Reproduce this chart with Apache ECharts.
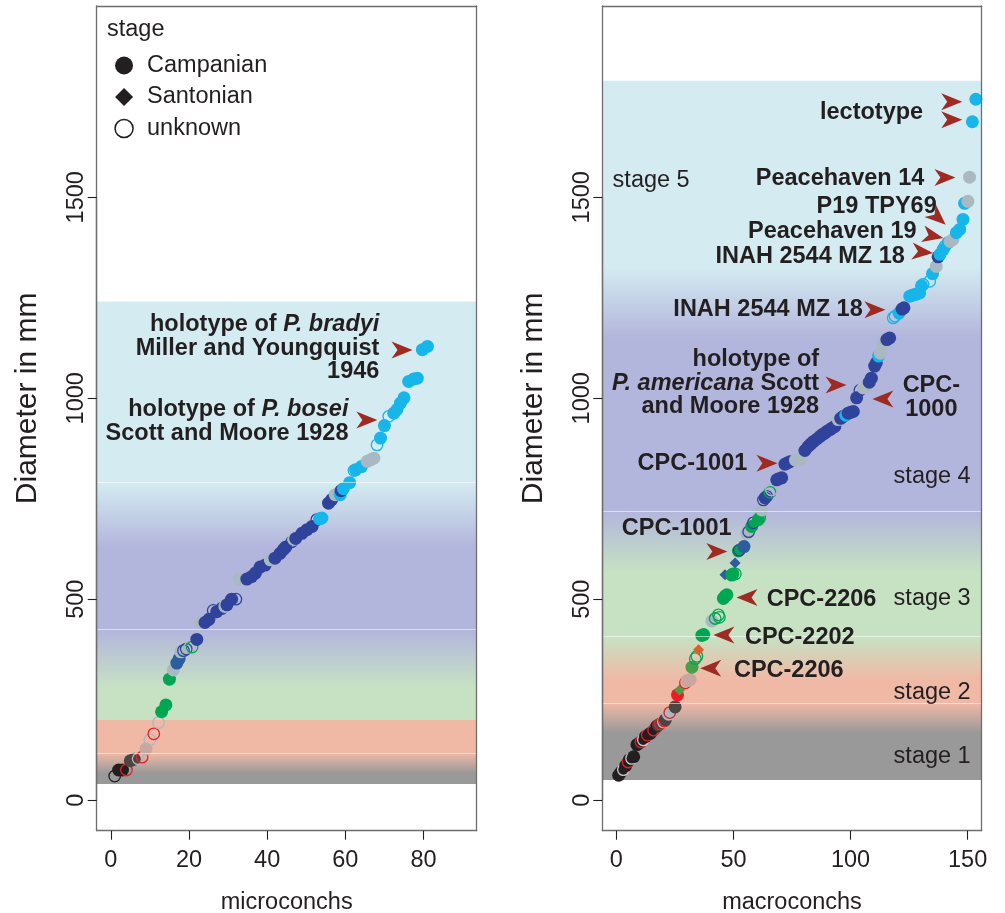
<!DOCTYPE html>
<html><head><meta charset="utf-8">
<script src="https://cdn.jsdelivr.net/npm/echarts@6/dist/echarts.min.js"></script>
<style>html,body{margin:0;padding:0;background:#fff}#c{width:1005px;height:913px}</style>
</head><body><div id="c"></div>
<script>
// ---------------- DATA ----------------
// microconchs (left panel): rank, diameter (mm), colour group, shape (f=Campanian filled, d=Santonian diamond, o=unknown open)
const microX = [1,2,3,4,5,6,7,8,9,10,11,12.2,13,14.1,15,16,16.9,17.5,17.9,18.6,19.3,20.2,20.8,22,23,24.1,25.1,26.2,27.1,28.4,29.2,29.7,30.9,32,32.8,34.8,36,37,38.2,39.5,40.8,42,43.3,44.2,44.8,46.3,46.8,47.3,48.9,50.2,51.5,52.7,53.4,54,55.7,56.5,57.4,58.7,58.9,59.5,61.1,62.2,62.6,64.1,65.6,66.5,67.3,68.1,69,70,71.1,72.4,73.2,74.1,75,76.2,77.5,78.4,79.7,81];
const microD = [60,75,75,75,98,102,103,107,127,150,165,193,220,237,301,324,341,352,369,372,376,380,381,400,440,442,450,472,469,477,482,486,500,500,550,550,556,565,580,585,598,602,614,624,630,643,649,651,664,673,681,698,700,702,739,748,760,760,770,775,790,820,822,830,843,847,851,884,901,932,955,963,972,988,1001,1042,1048,1050,1121,1129];
const microCol = ['k','k','k','r','brn','brn','gry','r','pk','gry','r','gry','gr','gr','gr','gry','sb','sb','gry','b','b','gry','gr','b','gry','b','b','b','b','b','gry','b','b','b','gry','b','b','b','b','b','gry','b','b','b','b','b','gry','b','b','b','b','b','c','c','b','b','gry','c','b','c','c','c','c','c','gry','gry','gry','c','c','c','c','c','c','c','c','c','c','c','c','c'];
const microShape = ['o','f','f','o','f','f','o','o','f','o','o','o','f','f','f','f','f','f','f','o','o','o','o','f','f','f','f','o','f','f','f','f','f','o','f','f','f','f','f','f','f','f','f','f','f','o','f','f','f','f','f','o','f','f','f','f','f','f','f','f','f','o','f','f','f','f','f','o','f','f','o','f','f','f','f','f','f','f','f','f'];

// macroconchs (right panel)
const macroX = [1,2,3,4,5,5.5,6.5,7.4,8.8,10,10.5,11.5,12.4,13.2,14.5,15.9,17.3,18,18.7,20.1,20.5,20.9,22.3,22.8,25.1,26.1,27,29.5,30.1,31.5,32.3,33.7,34.4,35.1,36.5,37.3,40.8,42.2,43.6,44,45.7,46.5,47.2,46.4,49.3,49.8,50.8,50.7,52.1,52.5,54.5,55.7,56.5,57.8,58.5,60.6,61.2,62.1,62.8,63.5,64.2,65.6,66.2,68.5,69.5,70.6,72,73,74.1,76.5,78.3,79,80.5,81.9,83,84.1,85.5,87,88,89,90,91.2,92.2,93.3,94.7,95.8,96.9,98,99,100,101.2,102.6,104,105.4,106.8,108,108.9,110.3,111,112,112.7,113.9,115.5,116.7,118.2,119,120.7,122,122.8,125.3,126.3,127.4,128.5,129.5,130.3,131,133.8,135,136.6,137.4,138.2,139.5,140.3,141.6,142.5,143.7,145.2,146.6,148,148.7,150.1,150.8,152,153.5];
const macroD = [62,70,76,86,95,100,104,108,138,143,145,150,158,162,166,174,184,187,190,195,197,200,214,218,232,262,274,292,297,300,331,352,358,374,410,412,446,452,461,455,502,508,511,561,560,563,563,590,620,622,631,664,668,681,690,698,702,722,747,752,756,766,772,797,800,802,836,839,842,846,848,850,870,880,886,892,898,905,910,913,918,922,926,930,947,950,955,958,963,965,967,1001,1020,1026,1030,1040,1050,1080,1088,1105,1112,1134,1146,1150,1200,1204,1212,1222,1225,1254,1256,1258,1260,1262,1280,1283,1291,1310,1328,1352,1358,1370,1378,1387,1390,1395,1412,1420,1445,1485,1490,1550,1688,1744];
const macroCol = ['k','k','gryw','k','r','k','gryw','k','k','k','r','gryw','k','r','k','r','k','brn','r','gry','r','brn','gry','r','brn','r','dgr','r','pk','pk','dgr','gr','gr','or','gr','gr','gry','gr','gr','gr','gr','gr','gr','sb','gr','gr','gr','sb','gr','b','sb','gry','b','gr','b','gr','gr','gry','b','b','b','gr','gry','b','b','b','b','b','b','gry','gry','gry','b','b','b','b','b','b','b','b','b','b','b','b','gry','b','b','c','b','b','b','b','b','gry','gry','b','b','b','b','c','gry','gry','b','b','c','c','c','b','b','c','c','c','c','c','c','c','c','c','gry','b','c','c','c','c','gry','gry','c','c','c','c','gry','gry','c','c'];
const macroShape = ['f','f','o','f','o','f','o','f','f','f','o','o','f','o','f','o','f','f','o','f','o','f','f','o','f','f','d','o','f','f','f','o','o','d','f','f','f','o','o','o','f','f','f','d','f','f','o','d','f','o','f','f','o','f','o','f','o','f','o','f','o','o','o','f','f','f','f','f','f','f','f','o','f','f','f','f','f','f','f','f','f','f','f','f','f','f','f','f','f','f','f','f','o','f','f','f','f','f','f','f','f','f','f','f','o','o','f','f','f','f','f','f','f','f','f','o','o','f','f','f','f','f','o','f','f','f','f','f','f','f','f','f','f','f'];

// stage background bands: [lower, upper, stage at lower edge, stage at upper edge]
const microBands = [[40,67,'s1','s1'],[67,117,'s1','s2'],[117,200,'s2','s2'],[200,280,'s3','s3'],[280,424,'s3','s4'],[424,630,'s4','s4'],[630,792,'s4','s5'],[792,1241,'s5','s5']];
const microBandLines = [117,424,792];
const macroBands = [[50,167,'s1','s1'],[167,242,'s1','s2'],[242,300,'s2','s2'],[300,407,'s2','s3'],[407,565,'s3','s3'],[565,720,'s3','s4'],[720,1150,'s4','s4'],[1150,1330,'s4','s5'],[1330,1790,'s5','s5']];
const macroBandLines = [242,407,720];

// annotations: [x, diameter, text, align]
const microNotes = [[68.7,1124,'holotype of {i|P. bradyi}\nMiller and Youngquist\n1946','right'],[60.8,942,'holotype of {i|P. bosei}\nScott and Moore 1928','right']];
const macroNotes = [[131.0,1710,'lectotype','right'],[131.5,1546,'Peacehaven 14','right'],[136.8,1478,'P19 TPY69','right'],[128.2,1415,'Peacehaven 19','right'],[123.2,1352,'INAH 2544 MZ 18','right'],[105.2,1220,'INAH 2544 MZ 18','right'],[86.6,1037,'holotype of\n{i|P. americana} Scott\nand Moore 1928','right'],[134.5,1002,'CPC-\n1000','center'],[55.9,836.5,'CPC-1001','right'],[49.2,677,'CPC-1001','right'],[64.2,500,'CPC-2206','left'],[54.9,405,'CPC-2202','left'],[50.2,322,'CPC-2206','left']];
const macroStageNotes = [[-1.6,1543,'stage 5','left'],[151.3,805,'stage 4','right'],[151.3,502,'stage 3','right'],[151.3,267.5,'stage 2','right'],[151.3,108,'stage 1','right']];
// arrows: [x, diameter, rotation in degrees]
const microArrows = [[74.5,1120,0],[65.5,946,0]];
const macroArrows = [[143.2,1738,0],[143.2,1693,0],[140.3,1549,0],[137.3,1449,-42],[135.2,1404,-12],[130.7,1364,-5],[110.4,1220,0],[93.8,1033,0],[113.8,998,180],[64.3,838,0],[42.9,619,0],[55.8,504,180],[45.9,411,180],[40.3,328,180]];

const yTicks = [0,500,1000,1500];
const microTicks = [0,20,40,60,80];
const macroTicks = [0,50,100,150];
const legendNames = ['Campanian','Santonian','unknown'];

// ---------------- STYLE ----------------
const FONT = "'Liberation Sans', Arial, Helvetica, sans-serif";
const INK = '#231f20';
const BOX = '#6e6e6e';
const PT = {k:'#231f20', brn:'#4f4442', r:'#ed1c24', pk:'#c9a7a0', gr:'#00a651', dgr:'#4a9e47', gry:'#a9b8c1', gryw:'#c9c9c9', sb:'#2c5e9e', b:'#2f439b', c:'#16b5ea', or:'#d9602b'};
const BAND = {s1:'#999999', s2:'#f0b9a6', s3:'#c6e2c3', s4:'#b3b6dc', s5:'#d4ecf1'};
const ARROW = 'path://M0,0L21,8.5L0,17L6,8.5Z';
const ARROWCOL = '#9e2a22';
const FS = 23.5;

function pts(X, D, C, S) {
  return X.map((x, i) => {
    const col = PT[C[i]], s = S[i];
    if (s === 'o') return {value:[x, D[i]], symbol:'circle', symbolSize:11.5, itemStyle:{color:'rgba(0,0,0,0)', borderColor:col, borderWidth:1.3}};
    if (s === 'd') return {value:[x, D[i]], symbol:'diamond', symbolSize:11, itemStyle:{color:col}};
    return {value:[x, D[i]], symbol:'circle', symbolSize:13, itemStyle:{color:col}};
  });
}
function bandSeries(bands, lines, xi, yi) {
  const lo = bands[0][0], hi = bands[bands.length - 1][1];
  const stops = [];
  bands.slice().reverse().forEach(b => {
    stops.push({offset:(hi - b[1]) / (hi - lo), color:BAND[b[3]]});
    stops.push({offset:(hi - b[0]) / (hi - lo), color:BAND[b[2]]});
  });
  return {
    type:'scatter', xAxisIndex:xi, yAxisIndex:yi, silent:true, z:1,
    data:[{value:[0,0], symbolSize:0}],
    markArea:{silent:true, label:{show:false}, data:[[
      {yAxis:lo, itemStyle:{borderWidth:0, opacity:1, color:{type:'linear', x:0, y:0, x2:0, y2:1, colorStops:stops}}},
      {yAxis:hi}]]},
    markLine:{silent:true, symbol:['none','none'], label:{show:false},
      lineStyle:{color:'rgba(255,255,255,0.55)', width:1, type:'solid'},
      data: lines.map(v => ({yAxis:v}))}
  };
}
function noteSeries(notes, xi, yi, weight) {
  return {
    type:'scatter', xAxisIndex:xi, yAxisIndex:yi, silent:true, z:6,
    symbolSize:1, itemStyle:{color:'rgba(0,0,0,0)', opacity:1},
    data: notes.map(n => ({value:[n[0], n[1]], label:{align:n[3], formatter:n[2]}})),
    label:{show:true, position:'inside', verticalAlign:'middle', color:INK, fontFamily:FONT,
      fontSize:FS, fontWeight:weight, lineHeight:23.5, opacity:1,
      rich:{i:{fontStyle:'italic', fontWeight:weight, fontSize:FS, lineHeight:23.5, color:INK, fontFamily:FONT}}}
  };
}
function arrowSeries(arrows, xi, yi) {
  return {
    type:'scatter', xAxisIndex:xi, yAxisIndex:yi, silent:true, z:6,
    symbol:ARROW, symbolSize:[21,17], itemStyle:{color:ARROWCOL, opacity:1},
    data: arrows.map(a => ({value:[a[0], a[1]], symbolRotate:a[2]}))
  };
}
function segSeries(xMin, yMin, xLast, xi, yi) {
  return {
    type:'scatter', xAxisIndex:xi, yAxisIndex:yi, silent:true, z:20,
    data:[{value:[0,0], symbolSize:0}],
    markLine:{silent:true, symbol:['none','none'], label:{show:false},
      lineStyle:{color:INK, width:1.2, type:'solid'},
      data:[[{coord:[xMin, yTicks[0]]},{coord:[xMin, yTicks[yTicks.length-1]]}],
            [{coord:[0, yMin]},{coord:[xLast, yMin]}]]}
  };
}

const YMIN = -76, YMAX = 1976;
const lblStyle = {color:INK, fontFamily:FONT, fontSize:FS};
function xBottom(gi, min, max, ticks, name) {
  return {gridIndex:gi, type:'value', min, max, position:'bottom', z:10,
    axisLine:{show:true, onZero:false, lineStyle:{color:BOX, width:1.3}},
    axisTick:{show:true, customValues:ticks, length:9, lineStyle:{color:INK, width:1.1}},
    axisLabel:{show:true, customValues:ticks, margin:18, formatter:v => String(v), ...lblStyle},
    splitLine:{show:false},
    name, nameLocation:'middle', nameGap:60, nameTextStyle:{...lblStyle}};
}
function xTop(gi, min, max) {
  return {gridIndex:gi, type:'value', min, max, position:'top', z:10,
    axisLine:{show:true, onZero:false, lineStyle:{color:BOX, width:1.3}},
    axisTick:{show:false}, axisLabel:{show:false}, splitLine:{show:false}};
}
function yLeft(gi) {
  return {gridIndex:gi, type:'value', min:YMIN, max:YMAX, position:'left', z:10,
    axisLine:{show:true, onZero:false, lineStyle:{color:BOX, width:1.3}},
    axisTick:{show:true, customValues:yTicks, length:9, lineStyle:{color:INK, width:1.1}},
    axisLabel:{show:true, customValues:yTicks, rotate:90, margin:8, formatter:v => String(v), ...lblStyle},
    splitLine:{show:false},
    name:'Diameter in mm', nameLocation:'middle', nameGap:54,
    nameTextStyle:{color:INK, fontFamily:FONT, fontSize:30, padding:[0,0,0,40]}};
}
function yRight(gi) {
  return {gridIndex:gi, type:'value', min:YMIN, max:YMAX, position:'right', z:10,
    axisLine:{show:true, onZero:false, lineStyle:{color:BOX, width:1.3}},
    axisTick:{show:false}, axisLabel:{show:false}, splitLine:{show:false}};
}

const chart = echarts.init(document.getElementById('c'), null, {renderer:'canvas'});
chart.setOption({
  animation:false,
  backgroundColor:'#ffffff',
  textStyle:{fontFamily:FONT},
  title:{text:'stage', left:107, top:18, padding:0,
    textStyle:{fontSize:FS, fontWeight:'normal', color:INK, fontFamily:FONT}},
  legend:{orient:'vertical', left:114.3, top:53.5, padding:0, itemWidth:18, itemHeight:18, itemGap:7.5,
    selectedMode:false,
    textStyle:{fontSize:FS, color:INK, fontFamily:FONT, lineHeight:23, padding:[0,0,0,9]},
    data:[
      {name:legendNames[0], icon:'circle', itemStyle:{color:INK, opacity:1}},
      {name:legendNames[1], icon:'diamond', itemStyle:{color:INK, opacity:1}},
      {name:legendNames[2], icon:'circle', itemStyle:{color:'rgba(0,0,0,0)', borderColor:INK, borderWidth:1.5, opacity:1}}]},
  grid:[{left:96.7, top:6, width:380, height:824.7, outerBoundsMode:'none', containLabel:false},
        {left:602.3, top:6, width:379.4, height:824.7, outerBoundsMode:'none', containLabel:false}],
  xAxis:[xBottom(0,-3.6,93.6,microTicks,'microconchs'), xTop(0,-3.6,93.6),
         xBottom(1,-6,156,macroTicks,'macroconchs'), xTop(1,-6,156)],
  yAxis:[yLeft(0), yRight(0), yLeft(1), yRight(1)],
  series:[
    bandSeries(microBands, microBandLines, 0, 0),
    bandSeries(macroBands, macroBandLines, 2, 2),
    {type:'scatter', name:'micro', xAxisIndex:0, yAxisIndex:0, z:3, silent:true, itemStyle:{opacity:1}, data:pts(microX, microD, microCol, microShape)},
    {type:'scatter', name:'macro', xAxisIndex:2, yAxisIndex:2, z:3, silent:true, itemStyle:{opacity:1}, data:pts(macroX, macroD, macroCol, macroShape)},
    noteSeries(microNotes, 0, 0, 'bold'),
    noteSeries(macroNotes, 2, 2, 'bold'),
    noteSeries(macroStageNotes, 2, 2, 'normal'),
    arrowSeries(microArrows, 0, 0),
    arrowSeries(macroArrows, 2, 2),
    segSeries(-3.6, YMIN, microTicks[microTicks.length-1], 0, 0),
    segSeries(-6, YMIN, macroTicks[macroTicks.length-1], 2, 2),
    {type:'scatter', name:legendNames[0], xAxisIndex:0, yAxisIndex:0, itemStyle:{opacity:1}, data:[]},
    {type:'scatter', name:legendNames[1], xAxisIndex:0, yAxisIndex:0, itemStyle:{opacity:1}, data:[]},
    {type:'scatter', name:legendNames[2], xAxisIndex:0, yAxisIndex:0, itemStyle:{opacity:1}, data:[]}
  ]
});
</script></body></html>
